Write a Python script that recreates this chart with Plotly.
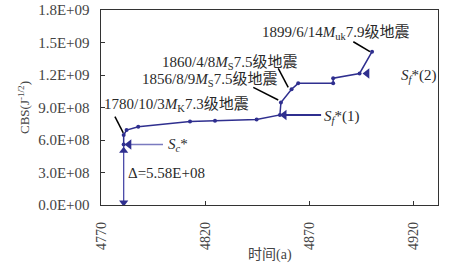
import plotly.graph_objects as go

# ---- data ----
cbs_x = [4780.6, 4780.6, 4782.0, 4787.6, 4812.5, 4824.5, 4844.5, 4855.7, 4856.2,
         4861.3, 4864.5, 4881.3, 4881.3, 4894.0, 4900.0]
cbs_y = [5.58e8, 6.46e8, 6.92e8, 7.23e8, 7.71e8, 7.78e8, 7.89e8, 8.31e8, 9.46e8,
         1.068e9, 1.123e9, 1.123e9, 1.17e9, 1.214e9, 1.415e9]

sc_value = 5.58e8
sf1_value = 8.31e8
sf2_value = 1.214e9
delta_x = 4780.6

y_ticks = [0, 3e8, 6e8, 9e8, 1.2e9, 1.5e9, 1.8e9]
y_ticktext = ["0.0E+00", "3.0E+08", "6.0E+08", "9.0E+08", "1.2E+09", "1.5E+09", "1.8E+09"]
x_ticks = [4770, 4820, 4870, 4920]
x_ticktext = ["4770", "4820", "4870", "4920"]

quake_labels = [
    "1780/10/3<i>M</i><sub>K</sub>7.3级地震",
    "1856/8/9<i>M</i><sub>S</sub>7.5级地震",
    "1860/4/8<i>M</i><sub>S</sub>7.5级地震",
    "1899/6/14<i>M</i><sub>uk</sub>7.9级地震",
]
label_x = [4806.0, 4822.0, 4831.7, 4882.5]
label_y = [9.23e8, 1.154e9, 1.311e9, 1.588e9]
ptr_x0 = [4776.4, 4842.9, 4854.9, 4891.0]
ptr_y0 = [8.15e8, 1.086e9, 1.262e9, 1.507e9]
ptr_x1 = [4780.4, 4854.9, 4859.7, 4899.0]
ptr_y1 = [6.65e8, 9.69e8, 1.086e9, 1.415e9]

FONT = "Times New Roman, Liberation Serif, Noto Sans CJK SC"
NAVY = "#2f2f8f"
TXT = "#2a2a2a"
PAD = "\u00a0\u00a0"

fig = go.Figure()

# Delta arrow (vertical from 0 to Sc*)
fig.add_trace(go.Scatter(x=[delta_x, delta_x], y=[0, sc_value], mode="lines",
                         line=dict(color="#4a4aa8", width=1.3), showlegend=False))
fig.add_trace(go.Scatter(x=[delta_x], y=[2.2e7], mode="markers",
                         marker=dict(symbol="triangle-down", size=8, color=NAVY), showlegend=False))
fig.add_trace(go.Scatter(x=[delta_x], y=[5.0e8], mode="markers",
                         marker=dict(symbol="triangle-up", size=8, color=NAVY), showlegend=False))

# Sc* arrow
fig.add_trace(go.Scatter(x=[4782.6, 4799.5], y=[sc_value, sc_value], mode="lines",
                         line=dict(color="#7a7abf", width=1.5), showlegend=False))
fig.add_trace(go.Scatter(x=[4783.2], y=[sc_value], mode="markers",
                         marker=dict(symbol="triangle-left", size=9, color=NAVY), showlegend=False))

# Sf*(1) arrow
fig.add_trace(go.Scatter(x=[4857.0, 4875.5], y=[sf1_value, sf1_value], mode="lines",
                         line=dict(color=NAVY, width=2), showlegend=False))
fig.add_trace(go.Scatter(x=[4857.8], y=[sf1_value], mode="markers",
                         marker=dict(symbol="triangle-left", size=9, color=NAVY), showlegend=False))

# Sf*(2) arrowhead
fig.add_trace(go.Scatter(x=[4897.6], y=[sf2_value], mode="markers",
                         marker=dict(symbol="triangle-left", size=9, color=NAVY), showlegend=False))

# main CBS curve
fig.add_trace(go.Scatter(x=cbs_x, y=cbs_y, mode="lines+markers",
                         line=dict(color=NAVY, width=1.5),
                         marker=dict(size=4, color=NAVY), showlegend=False))

# pointer lines
for a, b, c, d in zip(ptr_x0, ptr_y0, ptr_x1, ptr_y1):
    fig.add_shape(type="line", x0=a, y0=b, x1=c, y1=d, xref="x", yref="y",
                  line=dict(color="black", width=1.5))

for t, x, y in zip(quake_labels, label_x, label_y):
    fig.add_annotation(x=x, y=y, text=t, showarrow=False, xanchor="center", yanchor="middle",
                       font=dict(family=FONT, size=15, color=TXT))

fig.add_annotation(x=4876.0, y=8.15e8, text="<i>S</i><sub><i>f</i></sub>*(1)", showarrow=False,
                   xanchor="left", yanchor="middle", font=dict(family=FONT, size=15, color=TXT))
fig.add_annotation(x=4800.8, y=5.54e8, text="<i>S</i><sub><i>c</i></sub>*", showarrow=False,
                   xanchor="left", yanchor="middle", font=dict(family=FONT, size=15, color=TXT))
fig.add_annotation(x=4781.7, y=2.94e8, text="Δ=5.58E+08", showarrow=False,
                   xanchor="left", yanchor="middle", font=dict(family=FONT, size=15, color=TXT))
fig.add_annotation(x=4913.0, y=1.19e9, text="<i>S</i><sub><i>f</i></sub>*(2)", showarrow=False,
                   xanchor="left", yanchor="middle", font=dict(family=FONT, size=15, color=TXT))

# axis titles
fig.add_annotation(x=0.5, y=-0.256, xref="paper", yref="paper", text="时间(a)", showarrow=False,
                   xanchor="center", yanchor="middle", font=dict(family=FONT, size=14, color="#444"))
fig.add_annotation(x=-0.23, y=0.5, xref="paper", yref="paper", text="CBS(J<sup>-1/2</sup>)",
                   showarrow=False, textangle=-90, xanchor="center", yanchor="middle",
                   font=dict(family=FONT, size=13, color="#444"))

fig.update_layout(
    width=449, height=269,
    margin=dict(l=101, r=11, t=10, b=64),
    paper_bgcolor="white", plot_bgcolor="white",
    font=dict(family=FONT, size=14, color="#333"),
    xaxis=dict(range=[4769.7, 4931.7], tickvals=x_ticks,
               ticktext=[t + PAD + "\u00a0" for t in x_ticktext],
               ticks="inside", ticklen=4,
               tickcolor="#333", tickangle=-90, showgrid=False, zeroline=False,
               showline=True, linecolor="#333", linewidth=1, mirror=True,
               automargin=False,
               tickfont=dict(family=FONT, size=14, color="#444")),
    yaxis=dict(range=[0, 1.8e9], tickvals=y_ticks, ticktext=[t + PAD for t in y_ticktext],
               ticks="inside", ticklabeloverflow="allow",
               ticklen=4, tickcolor="#333", showgrid=False, zeroline=False,
               showline=True, linecolor="#333", linewidth=1, mirror=True,
               automargin=False,
               tickfont=dict(family=FONT, size=15, color="#444")),
)

# remove the default 8px page margin so the figure sits at the window's corner
fig.write_html("out.html", config={"displayModeBar": False},
               post_script="document.body.style.margin='0px';")
